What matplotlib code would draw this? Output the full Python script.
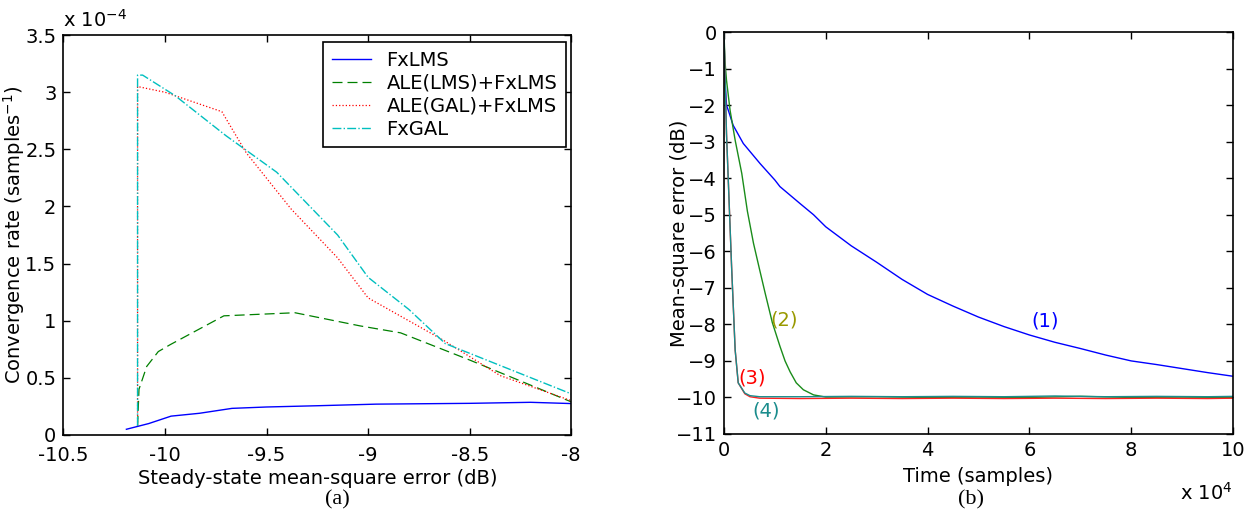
import matplotlib.pyplot as plt

# ---- panel (a): convergence rate vs steady-state MSE ----
fxlms_x = [-10.19, -10.08, -9.97, -9.83, -9.67, -9.5, -9.25, -8.96, -8.5, -8.2, -8.0]
fxlms_y = [0.05, 0.10, 0.165, 0.19, 0.233, 0.245, 0.256, 0.27, 0.277, 0.286, 0.275]

ale_lms_x = [-10.135, -10.128, -10.09, -10.033, -9.975, -9.71, -9.516, -9.36, -9.04, -8.84, -8.5, -8.0]
ale_lms_y = [0.08, 0.40, 0.60, 0.73, 0.79, 1.043, 1.058, 1.07, 0.955, 0.894, 0.656, 0.29]

ale_gal_x = [-10.135, -10.135, -10.0, -9.72, -9.6, -9.38, -9.15, -9.0, -8.63, -8.35, -8.0]
ale_gal_y = [0.08, 3.05, 3.0, 2.83, 2.47, 1.98, 1.55, 1.2, 0.83, 0.52, 0.30]

fxgal_x = [-10.135, -10.135, -10.11, -9.95, -9.7, -9.45, -9.15, -9.0, -8.8, -8.62, -8.0]
fxgal_y = [0.08, 3.15, 3.15, 2.97, 2.62, 2.30, 1.75, 1.38, 1.10, 0.80, 0.36]

# ---- panel (b): learning curves, time in 1e4 samples ----
t1 = [0, 0.02, 0.05, 0.085, 0.18, 0.38, 0.5, 0.71, 1.0, 1.1, 1.5, 1.76, 2.0, 2.5, 3.0,
      3.5, 4.0, 4.5, 5.0, 5.5, 6.0, 6.5, 7.0, 7.5, 8.0, 8.5, 9.0, 9.5, 10.0]
mse1 = [0, -1.3, -2.0, -2.14, -2.55, -3.05, -3.25, -3.6, -4.05, -4.23, -4.7, -5.0, -5.33,
        -5.85, -6.3, -6.77, -7.18, -7.5, -7.8, -8.06, -8.29, -8.49, -8.66, -8.84, -9.0,
        -9.1, -9.21, -9.32, -9.42]

t2 = [0, 0.02, 0.05, 0.12, 0.22, 0.35, 0.46, 0.58, 0.7, 0.81, 0.95, 1.1, 1.2, 1.3, 1.42,
      1.56, 1.76, 2.0, 3.0, 4.0, 5.0, 6.0, 7.0, 8.0, 9.0, 10.0]
mse2 = [0, -0.8, -1.32, -2.14, -2.96, -3.87, -4.9, -5.78, -6.5, -7.15, -7.95, -8.6, -9.0,
        -9.3, -9.6, -9.79, -9.93, -9.99, -9.98, -10.0, -9.99, -10.0, -9.97, -10.0, -9.99, -10.0]

t3 = [0, 0.02, 0.05, 0.1, 0.15, 0.22, 0.28, 0.41, 0.51, 0.7, 1.5, 2.5, 3.5, 4.5, 5.5, 6.5,
      7.5, 8.5, 9.5, 10.0]
mse3 = [0, -1.2, -2.78, -4.6, -6.42, -8.7, -9.6, -9.9, -9.98, -10.02, -10.03, -10.02, -10.03,
        -10.02, -10.03, -10.02, -10.03, -10.02, -10.03, -10.02]

t4 = [0, 0.02, 0.05, 0.1, 0.15, 0.22, 0.28, 0.41, 0.51, 0.7, 1.5, 2.5, 3.5, 4.5, 5.5, 6.5,
      7.5, 8.5, 9.5, 10.0]
mse4 = [0, -1.2, -2.78, -4.6, -6.42, -8.7, -9.6, -9.88, -9.95, -9.98, -9.98, -9.97, -9.98,
        -9.97, -9.98, -9.96, -9.98, -9.97, -9.98, -9.97]

plt.rcParams['font.family'] = 'DejaVu Sans'
plt.rcParams['font.size'] = 14

fig = plt.figure(figsize=(12.56, 5.22), dpi=100)

ax1 = fig.add_axes([0.0505, 0.1667, 0.4043, 0.766])
ax1.plot(fxlms_x, fxlms_y, color='#0000ff', lw=1.0, label='FxLMS')
ax1.plot(ale_lms_x, ale_lms_y, color='#008000', lw=0.9, ls=(0, (8, 4)), label='ALE(LMS)+FxLMS')
ax1.plot(ale_gal_x, ale_gal_y, color='#ff0000', lw=0.9, ls=':', label='ALE(GAL)+FxLMS')
ax1.plot(fxgal_x, fxgal_y, color='#00bfbf', lw=1.0, ls='-.', label='FxGAL')
ax1.set_xlim(-10.5, -8)
ax1.set_ylim(0, 3.5)
ax1.set_xticks([-10.5, -10, -9.5, -9, -8.5, -8])
ax1.set_xticklabels(['-10.5', '-10', '-9.5', '-9', '-8.5', '-8'])
ax1.set_yticks([0, 0.5, 1, 1.5, 2, 2.5, 3, 3.5])
ax1.set_yticklabels(['0', '0.5', '1', '1.5', '2', '2.5', '3', '3.5'])
ax1.tick_params(direction='in', top=True, right=True, length=5, width=1, pad=5)
ax1.tick_params(axis='x', pad=8)
ax1.set_xlabel('Steady-state mean-square error (dB)', labelpad=3)
ax1.set_ylabel('Convergence rate (samples$^{-1}$)')
ax1.yaxis.set_label_coords(-0.072, 0.5)
ax1.text(0.0, 1.012, r'x 10$^{-4}$', transform=ax1.transAxes, ha='left', va='bottom')
leg = ax1.legend(loc='upper right', bbox_to_anchor=(0.99, 0.982), borderaxespad=0,
                 fancybox=False, edgecolor='black', framealpha=1, handlelength=2.0,
                 borderpad=0.45, labelspacing=0.2, handletextpad=0.8)
leg.get_frame().set_linewidth(1.2)
for s in ax1.spines.values():
    s.set_linewidth(1.2)

ax2 = fig.add_axes([0.5764, 0.1686, 0.4053, 0.770])
ax2.plot(t1, mse1, color='#0000ff', lw=1.0)
ax2.plot(t2, mse2, color='#1a8c1a', lw=1.0)
ax2.plot(t3, mse3, color='#ff2020', lw=1.0)
ax2.plot(t4, mse4, color='#1a8c8c', lw=1.0)
ax2.text(6.3, -7.9, '(1)', color='#0000ff', ha='center', va='center')
ax2.text(1.18, -7.88, '(2)', color='#999900', ha='center', va='center')
ax2.text(0.55, -9.46, '(3)', color='#ff0000', ha='center', va='center')
ax2.text(0.82, -10.37, '(4)', color='#1a8c8c', ha='center', va='center')
ax2.set_xlim(0, 10)
ax2.set_ylim(-11, 0)
ax2.set_xticks([0, 2, 4, 6, 8, 10])
ax2.set_yticks(list(range(-11, 1)))
ax2.tick_params(direction='in', top=True, right=True, length=5, width=1, pad=5)
ax2.set_xlabel('Time (samples)', labelpad=5)
ax2.set_ylabel('Mean-square error (dB)')
ax2.yaxis.set_label_coords(-0.068, 0.5)
ax2.text(1.0, -0.12, r'x 10$^{4}$', transform=ax2.transAxes, ha='right', va='top')
for s in ax2.spines.values():
    s.set_linewidth(1.2)

fig.text(0.269, 0.042, '(a)', family='Liberation Serif', fontsize=16, ha='center', va='center')
fig.text(0.773, 0.042, '(b)', family='Liberation Serif', fontsize=16, ha='center', va='center')

fig.savefig('out.png', dpi=100)
